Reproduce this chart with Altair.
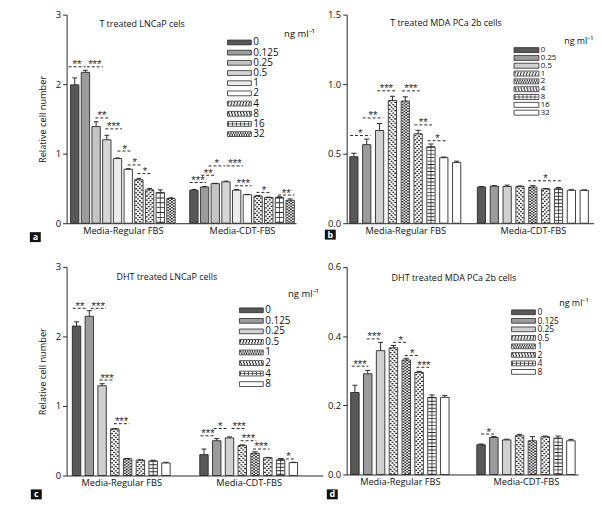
import altair as alt
import pandas as pd

FONT = "Open Sans"
STARFONT = "Liberation Sans"
groups = ["Media-Regular FBS", "Media-CDT-FBS"]

# ---------------- Panel a: T treated LNCaP ----------------
a_conc = ["0", "0.125", "0.25", "0.5", "1", "2", "4", "8", "16", "32"]
a_reg = [1.99, 2.17, 1.39, 1.20, 0.93, 0.775, 0.625, 0.48, 0.44, 0.355]
a_reg_err = [0.10, 0.03, 0.07, 0.065, 0.008, 0.01, 0.02, 0.02, 0.04, 0.01]
a_cdt = [0.475, 0.52, 0.57, 0.595, 0.475, 0.41, 0.39, 0.37, 0.37, 0.33]
a_cdt_err = [0.01, 0.01, 0.004, 0.01, 0.01, 0.005, 0.01, 0.005, 0.01, 0.02]
a_sig_group = [0, 0, 0, 0, 0, 0, 0, 1, 1, 1, 1, 1, 1, 1]
a_sig_lo = [-0.57, 1.13, 1.93, 2.86, 4.0, 4.94, 5.87, -0.39, 0.69, 1.37, 3.07, 3.84, 5.85, 7.86]
a_sig_hi = [1.0, 2.62, 3.17, 4.41, 5.34, 6.27, 7.26, 1.16, 1.99, 2.92, 4.61, 5.39, 7.24, 9.4]
a_sig_y = [2.25, 2.25, 1.514, 1.357, 1.038, 0.838, 0.714, 0.586, 0.69, 0.824, 0.824, 0.538, 0.443, 0.405]
a_sig_txt = ["**", "***", "**", "***", "*", "*", "*", "***", "**", "*", "***", "***", "*", "**"]

# ---------------- Panel b: T treated MDA PCa 2b ----------------
b_conc = ["0", "0.25", "0.5", "1", "2", "4", "8", "16", "32"]
b_reg = [0.478, 0.565, 0.667, 0.883, 0.879, 0.643, 0.55, 0.471, 0.436]
b_reg_err = [0.025, 0.04, 0.05, 0.03, 0.03, 0.025, 0.02, 0.005, 0.01]
b_cdt = [0.26, 0.266, 0.264, 0.264, 0.26, 0.247, 0.247, 0.237, 0.236]
b_cdt_err = [0.004, 0.004, 0.01, 0.004, 0.01, 0.002, 0.01, 0.004, 0.004]
b_sig_group = [0, 0, 0, 0, 0, 0, 1]
b_sig_lo = [-0.3, 0.68, 1.82, 3.75, 4.71, 5.74, 3.63]
b_sig_hi = [1.3, 2.28, 3.24, 5.12, 6.08, 7.29, 6.34]
b_sig_y = [0.631, 0.757, 0.952, 0.952, 0.707, 0.593, 0.305]
b_sig_txt = ["*", "**", "***", "***", "**", "*", "*"]

# ---------------- Panel c: DHT treated LNCaP ----------------
c_conc = ["0", "0.125", "0.25", "0.5", "1", "2", "4", "8"]
c_reg = [2.15, 2.29, 1.29, 0.67, 0.24, 0.22, 0.21, 0.18]
c_reg_err = [0.06, 0.08, 0.03, 0.005, 0.005, 0.005, 0.01, 0.01]
c_cdt = [0.30, 0.50, 0.54, 0.43, 0.32, 0.255, 0.225, 0.185]
c_cdt_err = [0.08, 0.03, 0.015, 0.01, 0.02, 0.005, 0.02, 0.005]
c_sig_group = [0, 0, 0, 0, 1, 1, 1, 1, 1, 1]
c_sig_lo = [-0.3, 1.1, 1.8, 2.92, -0.27, 0.76, 2.17, 2.87, 3.84, 6.03]
c_sig_hi = [0.82, 2.3, 2.98, 4.13, 0.89, 1.79, 3.33, 4.1, 5.12, 7.19]
c_sig_y = [2.405, 2.405, 1.373, 0.745, 0.571, 0.676, 0.676, 0.5, 0.381, 0.238]
c_sig_txt = ["**", "***", "***", "***", "***", "*", "***", "***", "***", "*"]

# ---------------- Panel d: DHT treated MDA PCa 2b ----------------
d_conc = ["0", "0.125", "0.25", "0.5", "1", "2", "4", "8"]
d_reg = [0.237, 0.291, 0.358, 0.366, 0.331, 0.295, 0.223, 0.223]
d_reg_err = [0.021, 0.01, 0.024, 0.007, 0.005, 0.003, 0.007, 0.005]
d_cdt = [0.086, 0.107, 0.1, 0.112, 0.0975, 0.109, 0.105, 0.0975]
d_cdt_err = [0.002, 0.003, 0.002, 0.004, 0.012, 0.002, 0.006, 0.004]
d_sig_group = [0, 0, 0, 0, 0, 1]
d_sig_lo = [-0.25, 0.92, 2.98, 3.89, 4.79, 0.01]
d_sig_hi = [1.05, 2.08, 4.15, 5.05, 5.95, 1.18]
d_sig_y = [0.313, 0.392, 0.382, 0.344, 0.31, 0.117]
d_sig_txt = ["***", "***", "*", "*", "***", "*"]

# fills and textures (styles)
fill_a = ["#585858", "#9c9c9c", "#c4c4c4", "#d6d6d6", "#ececec", "#ffffff",
          "#ffffff", "#ffffff", "#ffffff", "#ffffff"]
tex_a = {"4": "bk", "8": "fw", "16": "grid", "32": "xx"}
fill_b = ["#585858", "#9c9c9c", "#d0d0d0", "#ffffff", "#ffffff", "#ffffff",
          "#ffffff", "#ffffff", "#ffffff"]
tex_b = {"1": "bk", "2": "xx", "4": "fw", "8": "grid"}
fill_cd = ["#585858", "#9c9c9c", "#d0d0d0", "#ffffff", "#ffffff", "#ffffff",
           "#ffffff", "#ffffff"]
tex_cd = {"0.5": "bk", "1": "xx", "2": "fw", "4": "grid"}

SWATCH = "M-1,-0.2H1V0.2H-1Z"
INK = "#2a2a2a"


def panel(conc, reg, reg_err, cdt, cdt_err, sg, slo, shi, sy, stxt, fills, tex, g):
    n = len(conc)
    rows = []
    for gi, (vals, errs) in enumerate([(reg, reg_err), (cdt, cdt_err)]):
        for j in range(n):
            rows.append({"grp": gi, "j": j, "conc": conc[j],
                         "value": vals[j], "err": errs[j]})
    bars_df = pd.DataFrame(rows)
    sig_df = pd.DataFrame({"grp": sg, "lo": slo, "hi": shi, "y": sy, "txt": stxt})
    leg_df = pd.DataFrame({"conc": conc})

    step = g["gstep"]
    hw = g["hw"]
    cap = g["cap"]
    px = g["w"] / (g["xdom"][1] - g["xdom"][0])
    xscale = alt.Scale(domain=g["xdom"], nice=False, zero=False)
    yscale = alt.Scale(domain=g["ydom"], nice=False)
    mid = step / 2 + (n - 1) / 2
    xaxis = alt.Axis(values=[(n - 1) / 2, step + (n - 1) / 2],
                     labelExpr=f"datum.value < {mid} ? '{groups[0]}' : '{groups[1]}'",
                     ticks=False, tickSize=0, grid=False, title=None,
                     labelFontSize=9.3, labelPadding=3, labelColor="#111",
                     domainColor=INK, domainWidth=1, labelFlush=False)
    yaxis = alt.Axis(values=g["yticks"], format=g["yfmt"], tickSize=4, grid=False,
                     title=g["ytitle"], labelFontSize=9.5, titleFontSize=9.3,
                     titleFontWeight="normal", titlePadding=8, labelPadding=2,
                     domainColor=INK, tickColor=INK, labelColor="#111",
                     titleColor="#111")
    fill = alt.Fill("conc:N", scale=alt.Scale(domain=conc, range=fills), legend=None)

    base = alt.Chart(bars_df).transform_calculate(
        pos=f"datum.grp * {step} + datum.j",
    ).transform_calculate(
        x1=f"datum.pos - {hw}", x2=f"datum.pos + {hw}",
        c1=f"datum.pos - {cap}", c2=f"datum.pos + {cap}",
        top="datum.value + datum.err", zero="0",
    )
    bars = base.mark_rect(strokeWidth=0).encode(
        x=alt.X("x1:Q", scale=xscale, axis=xaxis),
        x2="x2:Q",
        y=alt.Y("value:Q", scale=yscale, axis=yaxis),
        y2="zero:Q",
        fill=fill,
    )
    outline = base.mark_rect(fillOpacity=0, stroke=INK, strokeWidth=0.9).encode(
        x="x1:Q", x2="x2:Q", y="value:Q", y2="zero:Q")

    # bar textures
    K = 4
    wpx = 2 * hw * px - 1.0
    cw = wpx / K
    tex_layers = []
    for cval, kind in tex.items():
        sub = base.transform_filter(alt.datum.conc == cval)
        if kind in ("bk", "fw", "xx"):
            for k in range(K):
                frac = -hw + 0.5 / px + cw / px * (k + 0.5)
                if kind == "xx":
                    dash = [1.4, 1.4]
                    off = 1.4 * (k % 2)
                else:
                    period = 4.2
                    kk = k if kind == "bk" else (K - 1 - k)
                    off = (period - (kk * cw) % period) % period
                    dash = [1.3, period - 1.3]
                tex_layers.append(
                    sub.transform_calculate(hx=f"datum.pos + {frac}").mark_rule(
                        color=INK, strokeWidth=cw, strokeDash=dash,
                        strokeDashOffset=off).encode(
                        x="hx:Q", y="value:Q", y2="zero:Q"))
        else:
            tex_layers.append(sub.mark_rule(
                color=INK, strokeWidth=wpx, strokeDash=[0.9, g["gridp"]]).encode(
                x="pos:Q", y="value:Q", y2="zero:Q"))
            tex_layers.append(sub.mark_rule(color=INK, strokeWidth=0.8).encode(
                x="pos:Q", y="value:Q", y2="zero:Q"))

    err = base.mark_rule(color=INK, strokeWidth=1).encode(
        x="pos:Q", y="value:Q", y2="top:Q")
    caps = base.mark_rule(color=INK, strokeWidth=1).encode(
        x="c1:Q", x2="c2:Q", y="top:Q")

    sbase = alt.Chart(sig_df).transform_calculate(
        x1=f"datum.grp * {step} + datum.lo",
        x2=f"datum.grp * {step} + datum.hi",
        xm=f"datum.grp * {step} + (datum.lo + datum.hi) / 2",
    )
    srule = sbase.mark_rule(color=INK, strokeWidth=1, strokeDash=[3, 2]).encode(
        x="x1:Q", x2="x2:Q", y="y:Q")
    stext = sbase.mark_text(font=STARFONT, fontSize=11.5, baseline="alphabetic",
                            dy=1.5, color=INK).encode(x="xm:Q", y="y:Q", text="txt:N")

    one = pd.DataFrame({"t": [g["title"]]})
    title = alt.Chart(one).mark_text(fontSize=9, color="#111", align="center",
                                     baseline="middle").encode(
        x=alt.value(g["tx"]), y=alt.value(g["ty"]), text="t:N")
    unit = alt.Chart(pd.DataFrame({"t": ["ng ml⁻¹"]})).mark_text(
        fontSize=g["ufs"], color="#111", align="left", baseline="middle").encode(
        x=alt.value(g["ux"]), y=alt.value(g["uy"]), text="t:N")
    box = alt.Chart(pd.DataFrame({"t": [g["letter"]]})).mark_rect(color="#111").encode(
        x=alt.value(g["bx"]), x2=alt.value(g["bx"] + 11),
        y=alt.value(g["by"]), y2=alt.value(g["by"] + 10))
    boxt = alt.Chart(pd.DataFrame({"t": [g["letter"]]})).mark_text(
        color="white", fontSize=9, fontWeight="bold", align="center",
        baseline="middle").encode(
        x=alt.value(g["bx"] + 5.5), y=alt.value(g["by"] + 5), text="t:N")

    inner = alt.layer(bars, *tex_layers, outline, err, caps, srule, stext,
                      title, unit, box, boxt)

    # manual legend
    ly = alt.Y("conc:N", sort=conc, axis=None,
               scale=alt.Scale(type="point", domain=conc, range=g["lrange"], padding=0))
    lx = g["lx"]
    lw = g["lw"]
    lsym = alt.Chart(leg_df).mark_point(shape=SWATCH, size=lw ** 2, filled=True,
                                        strokeWidth=0, opacity=1).encode(
        x=alt.value(lx), y=ly, fill=fill)
    leg_tex = []
    for cval, kind in tex.items():
        sub = alt.Chart(leg_df).transform_filter(alt.datum.conc == cval)
        xs = dict(x=alt.value(lx - lw / 2 + 0.6), x2=alt.value(lx + lw / 2 - 0.6), y=ly)
        if kind in ("bk", "fw", "xx"):
            for r, yo in enumerate([-0.95, 0.95]):
                if kind == "xx":
                    dash, off = [1.2, 1.2], 1.2 * r
                else:
                    sh = 0.7 if kind == "bk" else -0.7
                    dash, off = [1.2, 1.8], (3 + sh * r) % 3
                leg_tex.append(sub.mark_rule(color=INK, strokeWidth=1.9, yOffset=yo,
                                             strokeDash=dash,
                                             strokeDashOffset=off).encode(**xs))
        else:
            leg_tex.append(sub.mark_rule(color=INK, strokeWidth=3.6,
                                         strokeDash=[0.8, 3.2]).encode(**xs))
            leg_tex.append(sub.mark_rule(color=INK, strokeWidth=0.7).encode(**xs))
    lout = alt.Chart(leg_df).mark_point(shape=SWATCH, size=lw ** 2, filled=False,
                                        color=INK, strokeWidth=0.8, opacity=1).encode(
        x=alt.value(lx), y=ly)
    ltxt = alt.Chart(leg_df).mark_text(align="left", baseline="middle",
                                       fontSize=g["lfs"], color="#111").encode(
        x=alt.value(lx + lw / 2 + 2), y=ly, text="conc:N")

    return alt.layer(inner, lsym, *leg_tex, lout, ltxt).resolve_scale(
        y="independent").properties(width=g["w"], height=g["h"])


pa = panel(a_conc, a_reg, a_reg_err, a_cdt, a_cdt_err, a_sig_group, a_sig_lo,
           a_sig_hi, a_sig_y, a_sig_txt, fill_a, tex_a,
           dict(w=231, h=210, gstep=11.14, xdom=[-0.76, 20.69], hw=0.39, cap=0.22,
                ydom=[0, 3], yticks=[0, 1, 2, 3], yfmt="d", gridp=4,
                ytitle="Relative cell number", title="T treated LNCaP cels",
                tx=76, ty=9, ux=219, uy=20, letter="a", bx=-37, by=219,
                lrange=[28, 120.3], lx=174, lw=24, lfs=10, ufs=9.5))
pb = panel(b_conc, b_reg, b_reg_err, b_cdt, b_cdt_err, b_sig_group, b_sig_lo,
           b_sig_hi, b_sig_y, b_sig_txt, fill_b, tex_b,
           dict(w=249, h=210, gstep=9.93, xdom=[-0.56, 18.69], hw=0.32, cap=0.2,
                ydom=[0, 1.5], yticks=[0, 0.5, 1.0, 1.5], yfmt=".1f", gridp=2.6,
                ytitle=None, title="T treated MDA PCa 2b cells",
                tx=100, ty=8, ux=219, uy=27, letter="b", bx=-22, by=216.5,
                lrange=[35.7, 98.7], lx=181, lw=25, lfs=7.9, ufs=9))
pc = panel(c_conc, c_reg, c_reg_err, c_cdt, c_cdt_err, c_sig_group, c_sig_lo,
           c_sig_hi, c_sig_y, c_sig_txt, fill_cd, tex_cd,
           dict(w=258, h=210, gstep=9.98, xdom=[-0.78, 19.29], hw=0.33, cap=0.2,
                ydom=[0, 3], yticks=[0, 1, 2, 3], yfmt="d", gridp=2.6,
                ytitle="Relative cell number", title="DHT treated LNCaP cells",
                tx=101, ty=10, ux=223, uy=27, letter="c", bx=-36, by=224,
                lrange=[43.7, 118], lx=186, lw=24, lfs=10, ufs=9.5))
pd_ = panel(d_conc, d_reg, d_reg_err, d_cdt, d_cdt_err, d_sig_group, d_sig_lo,
            d_sig_hi, d_sig_y, d_sig_txt, fill_cd, tex_cd,
            dict(w=233, h=209, gstep=9.82, xdom=[-0.64, 17.38], hw=0.33, cap=0.2,
                 ydom=[0, 0.6], yticks=[0, 0.1, 0.2, 0.3, 0.4, 0.5, 0.6], yfmt=".1f",
                 gridp=2.6, ytitle=None, title="DHT treated MDA PCa 2b cells",
                 tx=108, ty=11, ux=214, uy=36, letter="d", bx=-20, by=224,
                 lrange=[45.7, 105.7], lx=178, lw=24, lfs=8.5, ufs=9))

row1 = alt.hconcat(pa, pb, spacing=51, bounds="flush").resolve_scale(fill="independent")
row2 = alt.hconcat(pc, pd_, spacing=24, bounds="flush").resolve_scale(fill="independent")
chart = alt.vconcat(row1, row2, spacing=20).resolve_scale(
    fill="independent"
).properties(
    padding={"left": 22, "top": 0, "right": 0, "bottom": 0}
).configure(font=FONT).configure_view(stroke=None)

chart.save("out.html", embed_options={"renderer": "svg", "actions": False})
